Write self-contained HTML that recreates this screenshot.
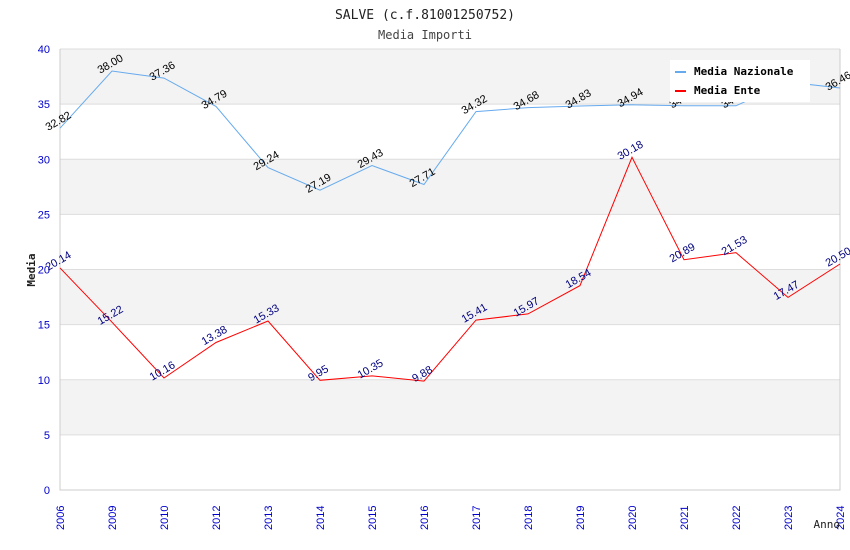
<!DOCTYPE html>
<html><head><meta charset="utf-8"><style>
body{margin:0;background:#fff;}
svg{display:block;font-family:"DejaVu Sans Mono","Liberation Mono",monospace;}
</style></head><body>
<svg id="chart" width="850" height="550"></svg>
<script>
const categories=["2006","2009","2010","2012","2013","2014","2015","2016","2017","2018","2019","2020","2021","2022","2023","2024"];
const nazionale=[32.82,38.00,37.36,34.79,29.24,27.19,29.43,27.71,34.32,34.68,34.83,34.94,34.85,34.85,37.0,36.46];
const ente=[20.14,15.22,10.16,13.38,15.33,9.95,10.35,9.88,15.41,15.97,18.54,30.18,20.89,21.53,17.47,20.50];
const yTicks=[0,5,10,15,20,25,30,35,40];
const svg=document.getElementById('chart');
const NS='http://www.w3.org/2000/svg';
const L=60,R=840,T=49,B=490,YMAX=40;
const x=i=>L+i*(R-L)/(categories.length-1);
const y=v=>B-v/YMAX*(B-T);
function mk(tag,attrs,txt){const e=document.createElementNS(NS,tag);for(const k in attrs)e.setAttribute(k,attrs[k]);if(txt!==undefined)e.textContent=txt;svg.appendChild(e);return e;}
for(let i=0;i<yTicks.length-1;i++){
  const a=yTicks[i],b=yTicks[i+1];
  const r=mk('rect',{x:L,y:y(b),width:R-L,height:y(a)-y(b),fill:(i%2===1)?'#f3f3f3':'#ffffff'});
  
  
}
yTicks.forEach(v=>{
  const g=mk('line',{x1:L,x2:R,y1:y(v),y2:y(v),stroke:'#dddddd','stroke-width':1});
  
  
  const t=mk('text',{x:L-10,y:y(v)+4,'text-anchor':'end','font-size':11,fill:'#0000cc','font-family':'Liberation Sans, sans-serif'},String(v));
  
  
});
const ax=mk('path',{d:`M${L},${T}V${B}H${R}V${T}`,fill:'none',stroke:'#cccccc'});


categories.forEach((c,i)=>{
  const t=mk('text',{x:0,y:0,transform:`translate(${x(i)+4},${B+40}) rotate(-90)`,'font-size':11,fill:'#0000cc','font-family':'Liberation Sans, sans-serif'},c);
  
  
});
function series(vals,color,lblColor,name){
  const p=mk('polyline',{points:vals.map((v,i)=>x(i)+','+y(v)).join(' '),fill:'none',stroke:color,'stroke-width':1});
  
  
  vals.forEach((v,i)=>{
    const t=mk('text',{x:0,y:0,transform:`translate(${x(i)},${y(v)-4}) rotate(-30)`,'text-anchor':'middle','font-size':11,fill:lblColor,'font-family':'Liberation Sans, sans-serif'},v.toFixed(2));
    
    
  });
}
series(nazionale,'#66aaee','#000000','nazionale');
series(ente,'#ff0000','#000080','ente');
const lg=mk('rect',{x:670,y:60,width:140,height:42,fill:'#ffffff'});


[['Media Nazionale','#66aaee',73],['Media Ente','#ff0000',92]].forEach(([n,c,yy])=>{
  const s=mk('rect',{x:675,y:yy-2,width:11,height:2,fill:c});
  
  
  const t=mk('text',{x:694,y:yy+2,'font-size':11,'font-weight':'bold',fill:'#000'},n);
  
  
});
const t1=mk('text',{x:425,y:19,'text-anchor':'middle','font-size':13,fill:'#222'},'SALVE (c.f.81001250752)');


const t2=mk('text',{x:425,y:39,'text-anchor':'middle','font-size':12,fill:'#444'},'Media Importi');


const yt=mk('text',{x:0,y:0,transform:'translate(35,270) rotate(-90)','text-anchor':'middle','font-size':11,'font-weight':'bold',fill:'#222'},'Media');


const xt=mk('text',{x:840,y:528,'text-anchor':'end','font-size':11,fill:'#222'},'Anno');


</script>
</body></html>
